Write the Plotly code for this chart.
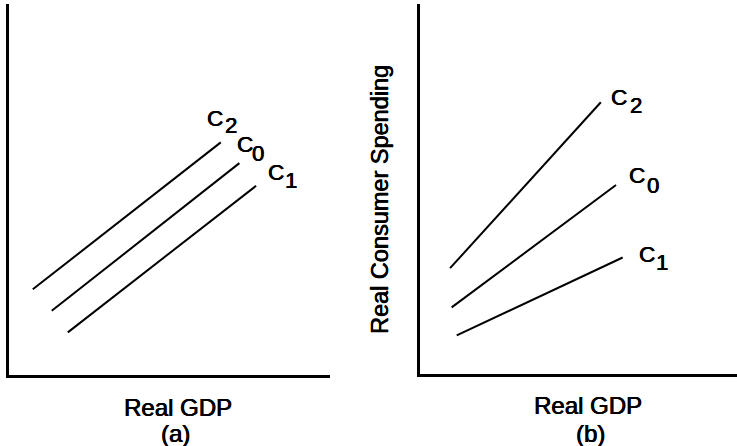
import plotly.graph_objects as go

W, H = 737, 446

# Panel (a): parallel shifts of the consumption function (data units 0-100)
a_names = ["2", "0", "1"]
a_x0 = [7.5, 13.4, 18.4]
a_x1 = [66.0, 71.8, 77.0]
a_y0 = [23.1, 17.3, 11.5]
a_y1 = [62.7, 57.1, 51.0]

# Panel (b): changes in slope of the consumption function
b_names = ["2", "0", "1"]
b_x0 = [9.4, 9.9, 11.5]
b_x1 = [57.0, 61.8, 63.9]
b_y0 = [28.5, 17.9, 10.3]
b_y1 = [73.4, 51.0, 31.4]

x_title = "Real GDP"
y_title = "Real Consumer Spending"
panel_tags = ["(a)", "(b)"]

FONT = "Liberation Sans, Arial, sans-serif"

def px(x, y):
    return x / W, 1 - y / H

fig = go.Figure()
for i in range(3):
    fig.add_trace(go.Scatter(x=[a_x0[i], a_x1[i]], y=[a_y0[i], a_y1[i]],
                             mode="lines", line=dict(color="black", width=2),
                             xaxis="x", yaxis="y", showlegend=False,
                             name="C" + a_names[i], hoverinfo="skip"))
    fig.add_trace(go.Scatter(x=[b_x0[i], b_x1[i]], y=[b_y0[i], b_y1[i]],
                             mode="lines", line=dict(color="black", width=2),
                             xaxis="x2", yaxis="y2", showlegend=False,
                             name="C" + b_names[i], hoverinfo="skip"))

ax = dict(range=[0, 100], showline=True, linecolor="black", linewidth=2.5,
          showgrid=False, zeroline=False, showticklabels=False, ticks="",
          fixedrange=True)

yb, yt = 1 - 375 / H, 1 - 4 / H
yb2 = 1 - 373.5 / H
fig.update_layout(
    width=W, height=H,
    margin=dict(l=0, r=0, t=0, b=0),
    paper_bgcolor="white", plot_bgcolor="white",
    xaxis=dict(ax, domain=[8.7 / W, 330 / W], anchor="y"),
    yaxis=dict(ax, domain=[yb, yt], anchor="x"),
    xaxis2=dict(ax, domain=[420.3 / W, 1.0], anchor="y2"),
    yaxis2=dict(ax, domain=[yb2, yt], anchor="x2"),
    showlegend=False,
)

annots = []

def add_text(text, x, y, size, angle=0):
    px_, py_ = px(x, y)
    annots.append(dict(text=text, x=px_, y=py_,
                       xref="paper", yref="paper",
                       xanchor="center", yanchor="middle", showarrow=False,
                       textangle=angle,
                       font=dict(family=FONT, size=size, color="black",
                                 shadow="0.5px 0 0 black, -0.3px 0 0 black")))

# curve label positions (pixels)
a_lab_C = [(215, 118.5), (244.5, 145), (275.5, 172.5)]
a_lab_d = [(230.5, 125.5), (258, 153.5), (290.5, 180.5)]
b_lab_C = [(619, 98), (637, 175.5), (646.5, 254.5)]
b_lab_d = [(636, 105.5), (653, 185), (662, 262.5)]
for i in range(3):
    add_text("C", *a_lab_C[i], 22.5)
    add_text(a_names[i], *a_lab_d[i], 22)
    add_text("C", *b_lab_C[i], 22.5)
    add_text(b_names[i], *b_lab_d[i], 22)

add_text(x_title, 177.5, 407, 24)
add_text(panel_tags[0], 175, 433, 24)
add_text(x_title, 588, 405, 24)
add_text(panel_tags[1], 590, 433.5, 24)
add_text(y_title, 380, 200, 23.5, angle=-90)

fig.update_layout(annotations=annots)
fig.write_html("out.html", config={"displayModeBar": False},
               post_script="document.body.style.margin='0';")
